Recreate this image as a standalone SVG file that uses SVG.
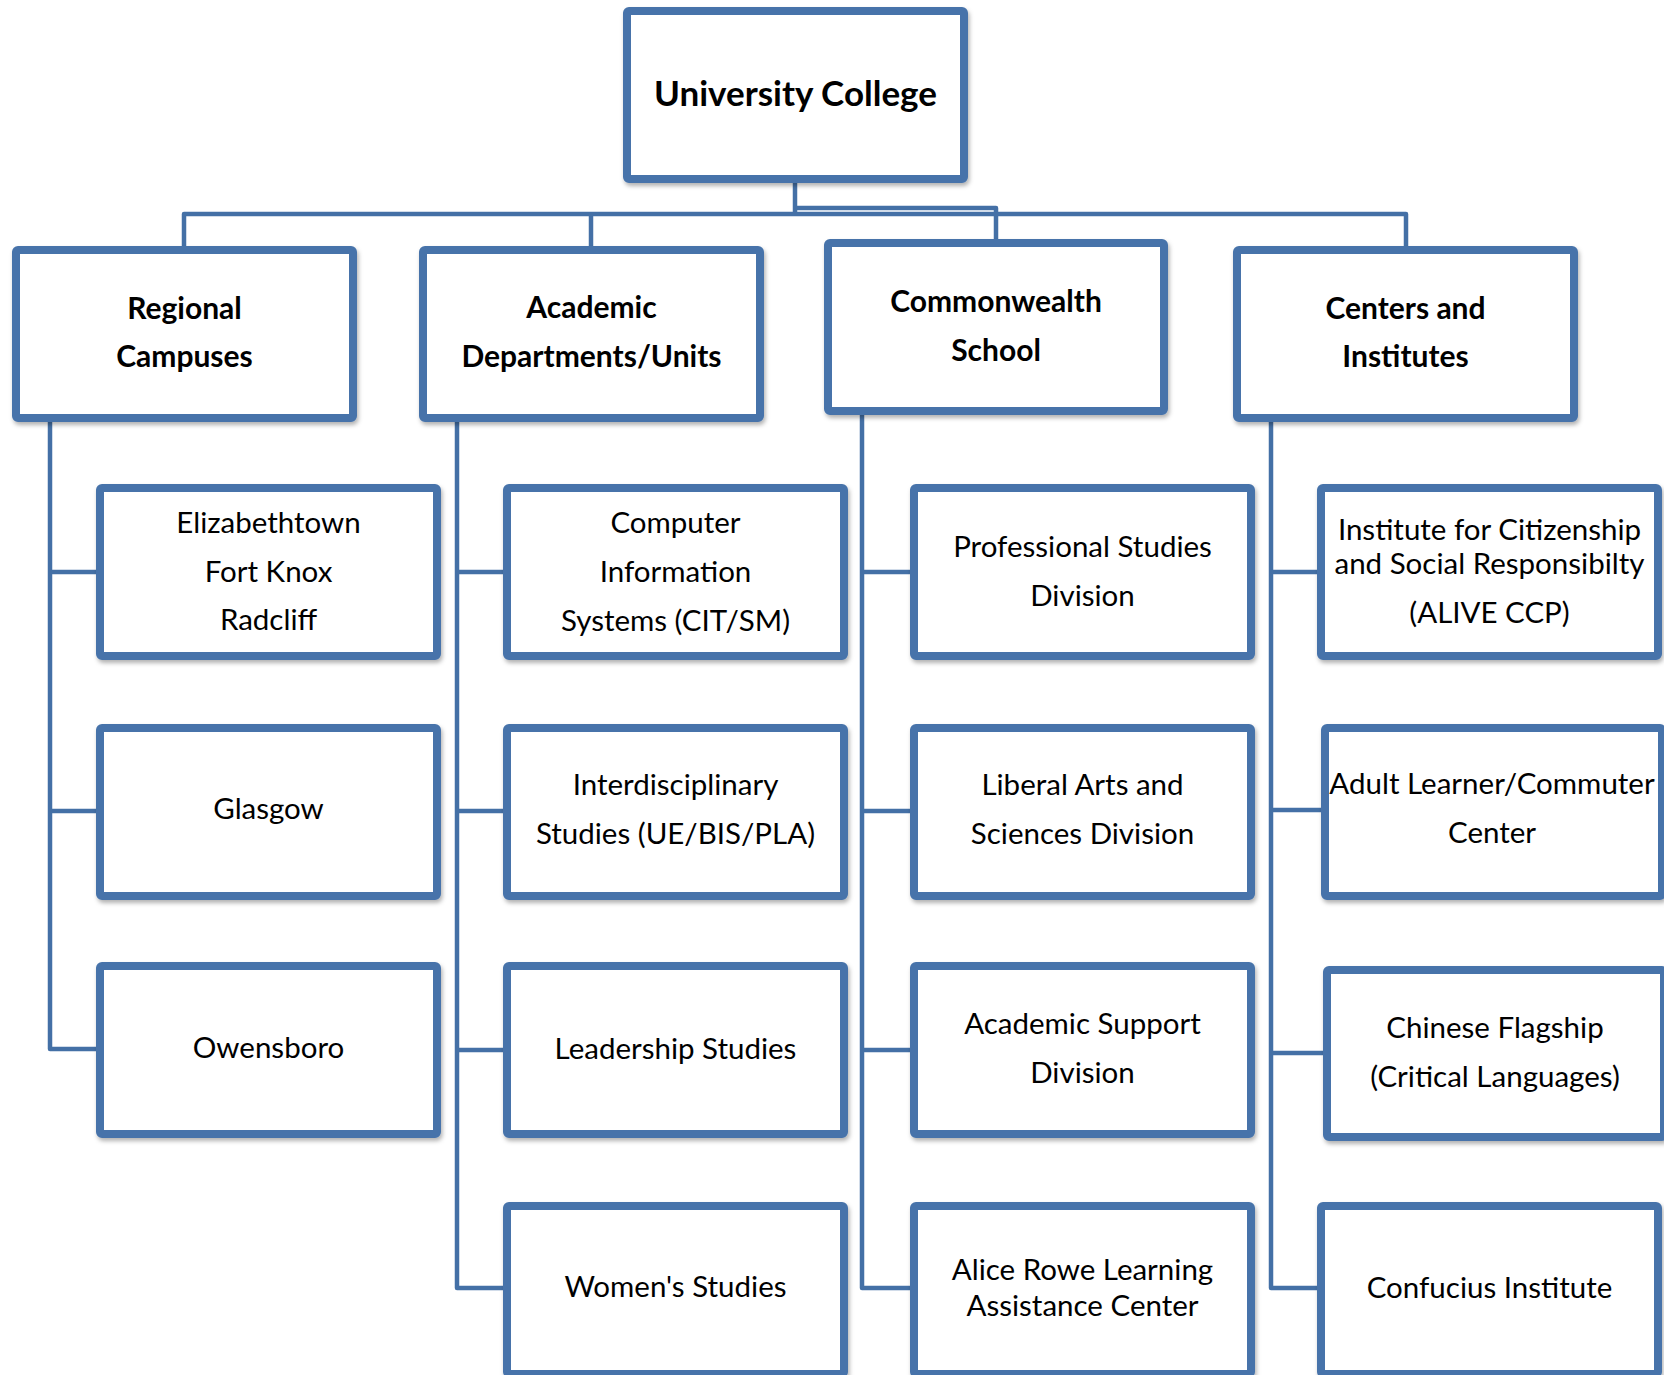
<svg xmlns="http://www.w3.org/2000/svg" width="1664" height="1375" viewBox="0 0 1664 1375">
<defs>
<filter id="sh" x="-5%" y="-5%" width="110%" height="115%">
<feDropShadow dx="1.5" dy="3" stdDeviation="2" flood-color="#000" flood-opacity="0.3"/>
</filter>
</defs>
<style>
.box{fill:#fff;stroke:#4773AA;stroke-width:8;stroke-linejoin:round;filter:url(#sh)}
.conn{fill:none;stroke:#4470A6;stroke-width:4.5;stroke-linejoin:round}
text{font-family:Lato,"Liberation Sans",sans-serif;fill:#000;text-anchor:middle}
.t{font-size:29.5px}
.b{font-size:30px;font-weight:bold}
.top{font-size:35px;font-weight:bold}
</style>
<rect width="1664" height="1375" fill="#fff"/>
<g id="connectors">
<path class="conn" d="M795,183 V214"/>
<path class="conn" d="M184,246 V214 H1406 V246"/>
<path class="conn" d="M591,214 V246"/>
<path class="conn" d="M795,208 H996 V239"/>
<path class="conn" d="M50,422 V1049 H96 M50,572 H96 M50,811 H96"/>
<path class="conn" d="M457,422 V1288 H503 M457,572 H503 M457,811 H503 M457,1050 H503"/>
<path class="conn" d="M862,415 V1288 H910 M862,572 H910 M862,811 H910 M862,1050 H910"/>
<path class="conn" d="M1271,422 V1288 H1317 M1271,572 H1317 M1271,810 H1321 M1271,1053 H1323"/>
</g>
<g id="university-college"><rect class="box" x="627" y="11" width="337" height="168" rx="2"/><text class="top" x="795.5" y="106">University College</text></g>
<g id="regional-campuses"><rect class="box" x="16" y="250" width="337" height="168" rx="2"/><text class="b" x="184.5" y="319">Regional</text><text class="b" x="184.5" y="367">Campuses</text></g>
<g id="academic-departments"><rect class="box" x="423" y="250" width="337" height="168" rx="2"/><text class="b" x="591.5" y="318">Academic</text><text class="b" x="591.5" y="367">Departments/Units</text></g>
<g id="commonwealth-school"><rect class="box" x="828" y="243" width="336" height="168" rx="2"/><text class="b" x="996" y="312">Commonwealth</text><text class="b" x="996" y="361">School</text></g>
<g id="centers-institutes"><rect class="box" x="1237" y="250" width="337" height="168" rx="2"/><text class="b" x="1405.5" y="319">Centers and</text><text class="b" x="1405.5" y="367">Institutes</text></g>

<g id="elizabethtown"><rect class="box" x="100" y="488" width="337" height="168" rx="2"/><text class="t" x="268.5" y="533">Elizabethtown</text><text class="t" x="268.5" y="582">Fort Knox</text><text class="t" x="268.5" y="630">Radcliff</text></g>
<g id="glasgow"><rect class="box" x="100" y="728" width="337" height="168" rx="2"/><text class="t" x="268.5" y="819">Glasgow</text></g>
<g id="owensboro"><rect class="box" x="100" y="966" width="337" height="168" rx="2"/><text class="t" x="268.5" y="1058">Owensboro</text></g>

<g id="computer-information"><rect class="box" x="507" y="488" width="337" height="168" rx="2"/><text class="t" x="675.5" y="533">Computer</text><text class="t" x="675.5" y="582">Information</text><text class="t" x="675.5" y="631">Systems (CIT/SM)</text></g>
<g id="interdisciplinary"><rect class="box" x="507" y="728" width="337" height="168" rx="2"/><text class="t" x="675.5" y="795">Interdisciplinary</text><text class="t" x="675.5" y="844">Studies (UE/BIS/PLA)</text></g>
<g id="leadership"><rect class="box" x="507" y="966" width="337" height="168" rx="2"/><text class="t" x="675.5" y="1059">Leadership Studies</text></g>
<g id="womens-studies"><rect class="box" x="507" y="1206" width="337" height="168" rx="2"/><text class="t" x="675.5" y="1297">Women's Studies</text></g>

<g id="professional-studies"><rect class="box" x="914" y="488" width="337" height="168" rx="2"/><text class="t" x="1082.5" y="557">Professional Studies</text><text class="t" x="1082.5" y="606">Division</text></g>
<g id="liberal-arts"><rect class="box" x="914" y="728" width="337" height="168" rx="2"/><text class="t" x="1082.5" y="795">Liberal Arts and</text><text class="t" x="1082.5" y="844">Sciences Division</text></g>
<g id="academic-support"><rect class="box" x="914" y="966" width="337" height="168" rx="2"/><text class="t" x="1082.5" y="1034">Academic Support</text><text class="t" x="1082.5" y="1083">Division</text></g>
<g id="alice-rowe"><rect class="box" x="914" y="1206" width="337" height="168" rx="2"/><text class="t" x="1082.5" y="1280">Alice Rowe Learning</text><text class="t" x="1082.5" y="1316">Assistance Center</text></g>

<g id="institute-citizenship"><rect class="box" x="1321" y="488" width="337" height="168" rx="2"/><text class="t" x="1489.5" y="540">Institute for Citizenship</text><text class="t" x="1489.5" y="574">and Social Responsibilty</text><text class="t" x="1489.5" y="623">(ALIVE CCP)</text></g>
<g id="adult-learner"><rect class="box" x="1325" y="728" width="337" height="168" rx="2"/><text class="t" x="1492" y="794">Adult Learner/Commuter</text><text class="t" x="1492" y="843">Center</text></g>
<g id="chinese-flagship"><rect class="box" x="1327" y="970" width="337" height="167" rx="2"/><text class="t" x="1495" y="1038">Chinese Flagship</text><text class="t" x="1495" y="1087">(Critical Languages)</text></g>
<g id="confucius-institute"><rect class="box" x="1321" y="1206" width="337" height="168" rx="2"/><text class="t" x="1489.5" y="1298">Confucius Institute</text></g>
</svg>
